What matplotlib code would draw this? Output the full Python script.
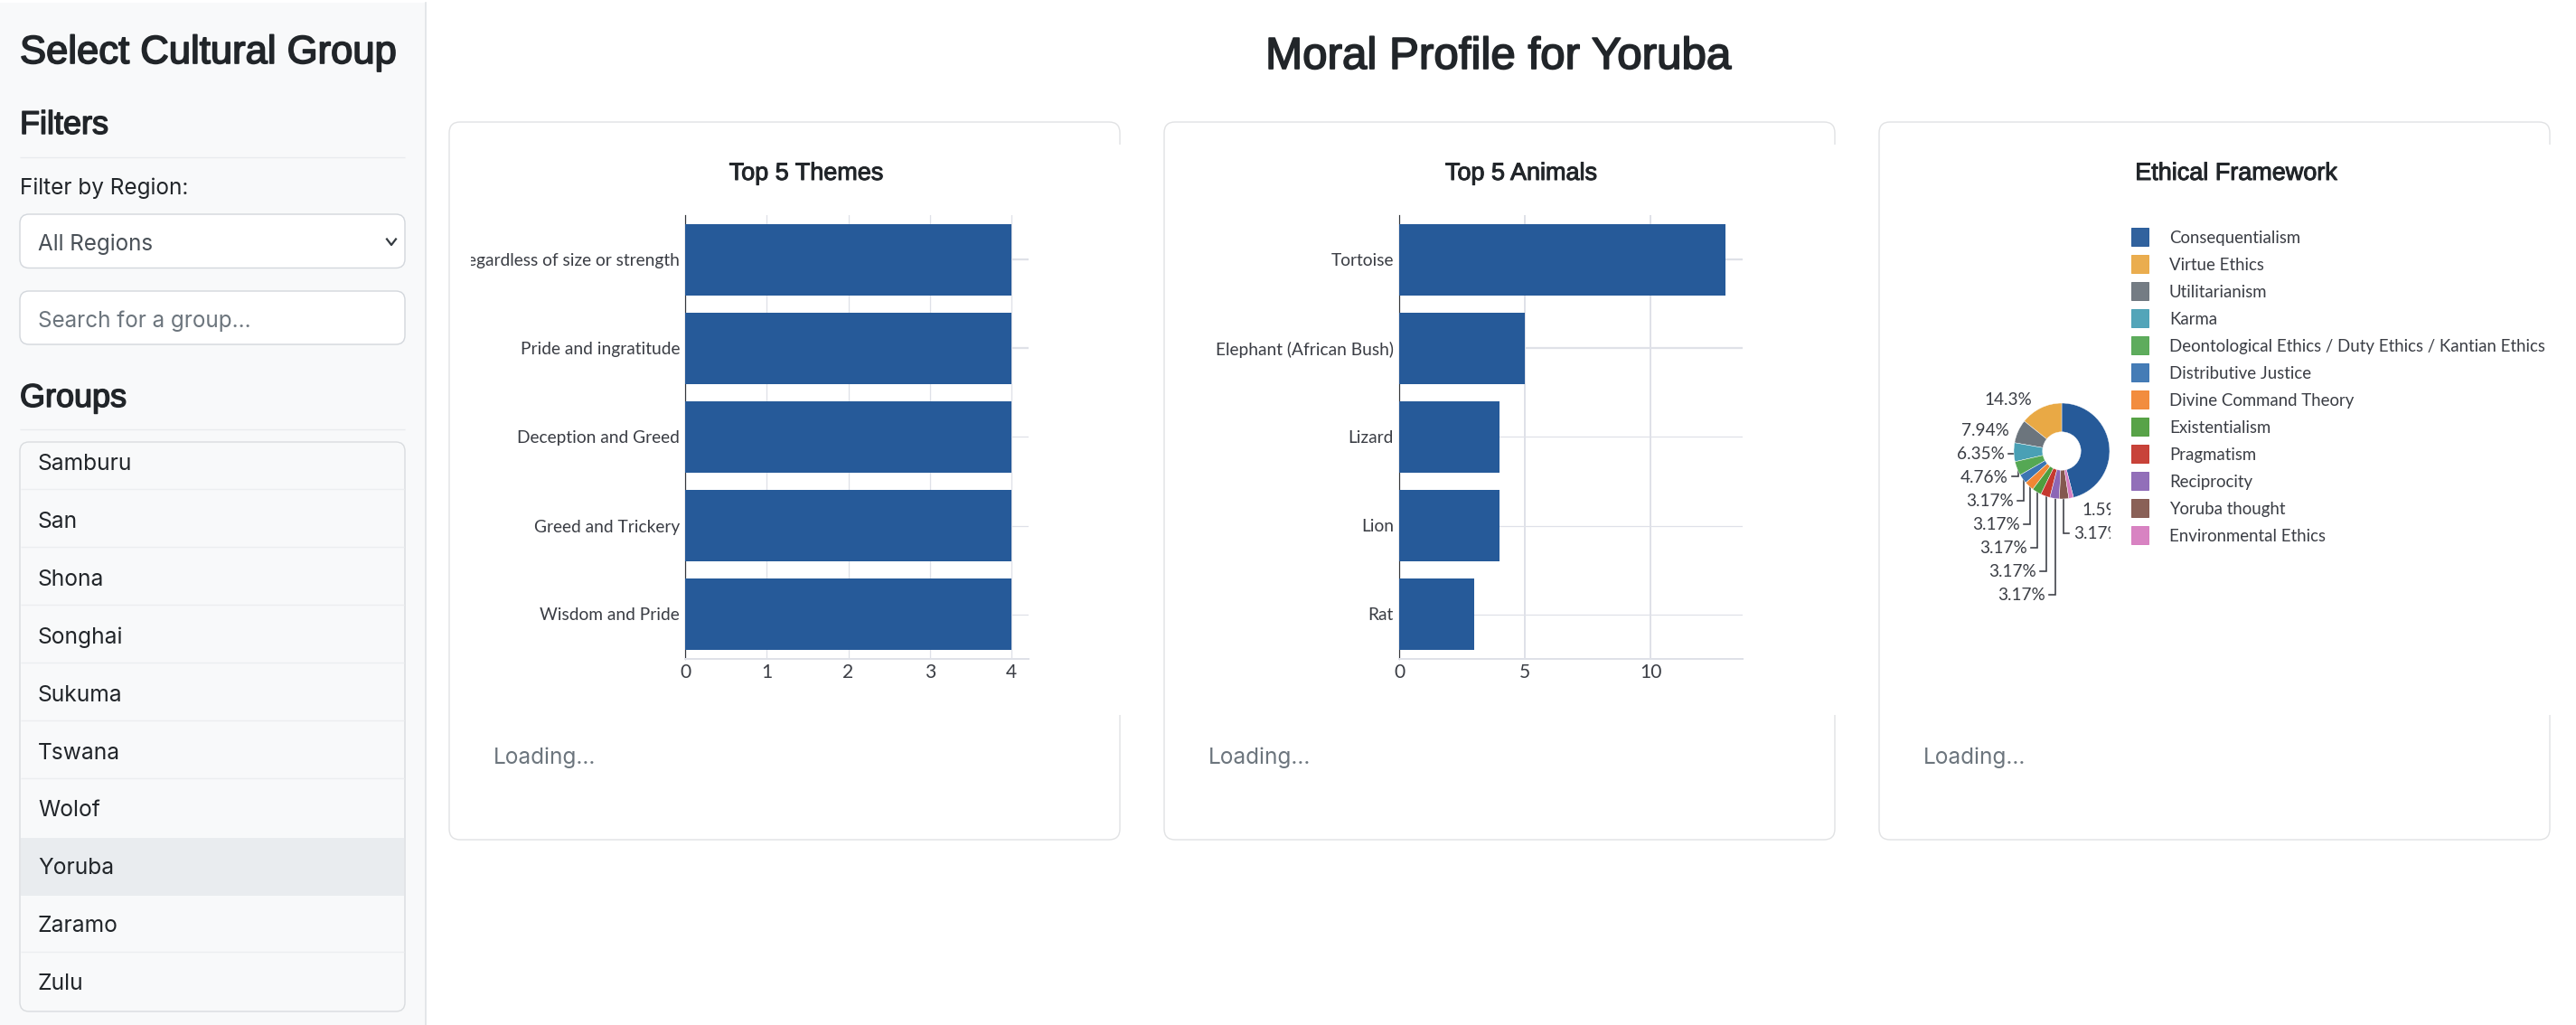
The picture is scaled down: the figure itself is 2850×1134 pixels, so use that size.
"""
Moral profile dashboard for one cultural group: sidebar, two bar charts, one donut.
"""
import matplotlib
matplotlib.use("Agg")
import matplotlib.pyplot as plt
import matplotlib.patheffects as pe
from matplotlib.patches import FancyBboxPatch, Rectangle
from matplotlib.transforms import Bbox

W, H = 2850, 1134

# data
group_names = ["Samburu", "San", "Shona", "Songhai", "Sukuma", "Tswana", "Wolof", "Yoruba", "Zaramo", "Zulu"]
selected_group = "Yoruba"

theme_names = ["regardless of size or strength", "Pride and ingratitude", "Deception and Greed",
               "Greed and Trickery", "Wisdom and Pride"]
theme_counts = [4, 4, 4, 4, 4]
theme_ticks = [0, 1, 2, 3, 4]

animal_names = ["Tortoise", "Elephant (African Bush)", "Lizard", "Lion", "Rat"]
animal_counts = [13, 5, 4, 4, 3]
animal_ticks = [0, 5, 10]

ethics_names = ["Consequentialism", "Virtue Ethics", "Utilitarianism", "Karma",
                "Deontological Ethics / Duty Ethics / Kantian Ethics", "Distributive Justice",
                "Divine Command Theory", "Existentialism", "Pragmatism", "Reciprocity",
                "Yoruba thought", "Environmental Ethics"]
ethics_counts = [29, 9, 5, 4, 3, 2, 2, 2, 2, 2, 2, 1]
ethics_pct = ["46%", "14.3%", "7.94%", "6.35%", "4.76%", "3.17%", "3.17%", "3.17%", "3.17%", "3.17%", "3.17%", "1.59%"]
ethics_colors = ["#265a99", "#e9a945", "#6c757d", "#4aa0b5", "#55a854", "#3b75b2",
                 "#f28734", "#4f9e3e", "#c5392f", "#8c67b5", "#84584e", "#d67cbf"]

DARK = "#212529"
GREY = "#6c757d"
AXIS_TEXT = "#3a3d44"
BAR = "#265a99"
GRID = "#dfe1e8"
UI = "Inter"
HEAD = "Liberation Sans"
CHART = "Lato"


def pt(px):
    return px * 0.72


fig = plt.figure(figsize=(W / 100, H / 100), dpi=100, facecolor="white")
bg = fig.add_axes([0, 0, 1, 1])
bg.set_xlim(0, W)
bg.set_ylim(H, 0)
bg.axis("off")


def box(x0, y0, x1, y1, edge, face="white", r=10, lw=1.4):
    bg.add_patch(FancyBboxPatch((x0, y0), x1 - x0, y1 - y0, boxstyle=f"round,pad=0,rounding_size={r}",
                                fc=face, ec=edge, lw=pt(lw)))


def label(x, y, s, px, color=DARK, ha="left", family=UI):
    return bg.text(x, y, s, fontsize=pt(px), color=color, ha=ha, va="baseline", family=family)


def heading(x, y, s, px, ha="left", stroke=0.9):
    # headings are a medium weight in the reference, the regular face gets a thin outline
    t = label(x, y, s, px, ha=ha, family=HEAD)
    t.set_path_effects([pe.withStroke(linewidth=pt(stroke), foreground=DARK)])
    return t


def hline(x0, x1, y, color, lw=1.4):
    bg.plot([x0, x1], [y, y], color=color, lw=pt(lw), solid_capstyle="butt")


# sidebar
bg.add_patch(Rectangle((0, 3), 471, H - 3, fc="#f8f9fa", ec="none"))
bg.plot([471, 471], [3, H], color="#dee2e6", lw=pt(1.6))
heading(22, 70, "Select Cultural Group", 43.6, stroke=1.7)
heading(22, 148, "Filters", 36, stroke=1.5)
hline(22, 448, 173.5, "#e9ebee")
label(22, 215, "Filter by Region:", 24.3)
box(22, 237, 448, 296.5, "#d3d7dc")
label(42, 277, "All Regions", 24.2, color="#495057")
bg.plot([428, 433, 438], [264.5, 271, 264.5], color="#343a40", lw=pt(2.2))
box(22, 322, 448, 381, "#d3d7dc")
label(42, 362, "Search for a group...", 24.2, color=GREY)
heading(22, 450, "Groups", 36, stroke=1.5)
hline(22, 448, 475, "#e9ebee")

# group list, rows are 64 px tall and scrolled so the first one starts above the box
list_top, list_bottom = 489, 1119
bg.add_patch(Rectangle((23, 926.5), 424, 64, fc="#e9ecef", ec="none"))
for i, name in enumerate(group_names):
    label(42, 520 + i * 63.9, name, 24.6)
    if i < len(group_names) - 1 and name != selected_group and group_names[i + 1] != selected_group:
        hline(23, 447, 541 + i * 64, "#eceef0")
box(22, list_top, 448, list_bottom, "#d9dcdf", face="none")

# page title
heading(1658, 76, "Moral Profile for Yoruba", 49.3, ha="center", stroke=1.7)

# cards
card_lefts = [497, 1288, 2079]
card_titles = ["Top 5 Themes", "Top 5 Animals", "Ethical Framework"]
for left, title in zip(card_lefts, card_titles):
    right = left + 742
    box(left, 135, right, 929, "#e1e2e4", r=12)
    # the chart canvas covers the right border of the card
    bg.add_patch(Rectangle((right - 3, 160), 6, 631, fc="white", ec="none"))
    heading(left + 395, 199, title, 27, ha="center", stroke=1.0)
    label(left + 49, 845, "Loading...", 24.4, color=GREY)


def bar_chart(left, right, xmax, names, counts, ticks, grid_px, clip_left=None):
    top, bottom = 238.5, 728.5
    ax = fig.add_axes([left / W, 1 - bottom / H, (right - left) / W, (bottom - top) / H])
    ax.set_xlim(0, xmax)
    ax.set_ylim(len(names) - 0.5, -0.5)
    ax.barh(range(len(names)), counts, height=0.8, color=BAR, zorder=3)
    ax.set_xticks(ticks)
    ax.set_yticks(range(len(names)))
    ax.set_yticklabels(names)
    ax.set_axisbelow(True)
    ax.grid(True, axis="x", color=GRID, lw=pt(grid_px))
    ax.grid(True, axis="y", color=GRID, lw=pt(1.2))
    # the top two rows land on full pixels in the reference, the others look thinner
    for line in ax.get_ygridlines()[:2]:
        line.set_linewidth(pt(2.2))
    ax.tick_params(length=0, labelsize=pt(19.2), labelcolor=AXIS_TEXT, pad=pt(6))
    for tick in ax.get_xticklabels():
        tick.set_fontsize(pt(21))
    for tick in ax.get_xticklabels() + ax.get_yticklabels():
        tick.set_family(CHART)
    for side in ["top", "right"]:
        ax.spines[side].set_visible(False)
    ax.spines["left"].set_color("#33363b")
    ax.spines["left"].set_linewidth(pt(1.2))
    ax.spines["bottom"].set_color(GRID)
    ax.spines["bottom"].set_linewidth(pt(2))
    if clip_left is not None:
        for tick in ax.get_yticklabels():
            tick.set_clip_on(True)
            tick.set_clip_box(Bbox([[clip_left, 0], [right, H]]))
    return ax


bar_chart(758, 1138, 4.21, theme_names, theme_counts, theme_ticks, 1.3, clip_left=521)
bar_chart(1548, 1928, 13.67, animal_names, animal_counts, animal_ticks, 2.0)

# donut, the first slice ends at twelve o'clock and the others follow counter clockwise
cx, cy, radius = 2281, 499, 53
pie_ax = fig.add_axes([(cx - radius) / W, 1 - (cy + radius) / H, 2 * radius / W, 2 * radius / H])
pie_ax.pie(ethics_counts, colors=ethics_colors, radius=1, counterclock=True,
           startangle=90 - 360 * ethics_counts[0] / sum(ethics_counts),
           wedgeprops={"width": 0.6, "edgecolor": "white", "linewidth": 0.3})
pie_ax.set_xlim(-1, 1)
pie_ax.set_ylim(-1, 1)

# slice labels, the canvas cuts them off at x=2335
label_anchor = {1: (2248, 448, "right"), 2: (2223, 482, "right"), 3: (2218, 508, "right"),
                4: (2222, 534, "right"), 5: (2228, 560, "right"), 6: (2235, 586, "right"),
                7: (2243, 612, "right"), 8: (2253, 638, "right"), 9: (2263, 664, "right"),
                10: (2294, 596, "left"), 11: (2303, 570, "left")}
for i, (x, y, ha) in label_anchor.items():
    t = label(x, y, ethics_pct[i], 19, color=AXIS_TEXT, ha=ha, family=CHART)
    t.set_clip_on(True)
    t.set_clip_box(Bbox([[2100, 0], [2335, H]]))

leader_lines = [([2222, 2228], [502, 502]),
                ([2226, 2233, 2233], [527, 527, 519]),
                ([2232, 2239, 2239], [554, 554, 530]),
                ([2239, 2246, 2246], [580, 580, 537]),
                ([2247, 2254, 2254], [606, 606, 545]),
                ([2257, 2264, 2264], [632, 632, 549]),
                ([2267, 2274, 2274], [658, 658, 552]),
                ([2283, 2283, 2289], [552, 590, 590])]
for xs, ys in leader_lines:
    bg.plot(xs, ys, color=AXIS_TEXT, lw=pt(1.6), solid_joinstyle="miter")

# legend
for i, (name, color) in enumerate(zip(ethics_names, ethics_colors)):
    y = 252 + i * 30
    bg.add_patch(Rectangle((2358.5, y), 19, 19.5, fc=color, ec=color, lw=pt(1), alpha=0.95))
    label(2400, y + 17, name, 18.6, color=AXIS_TEXT, family=CHART)

fig.savefig("out.png", dpi=100, facecolor="white")
